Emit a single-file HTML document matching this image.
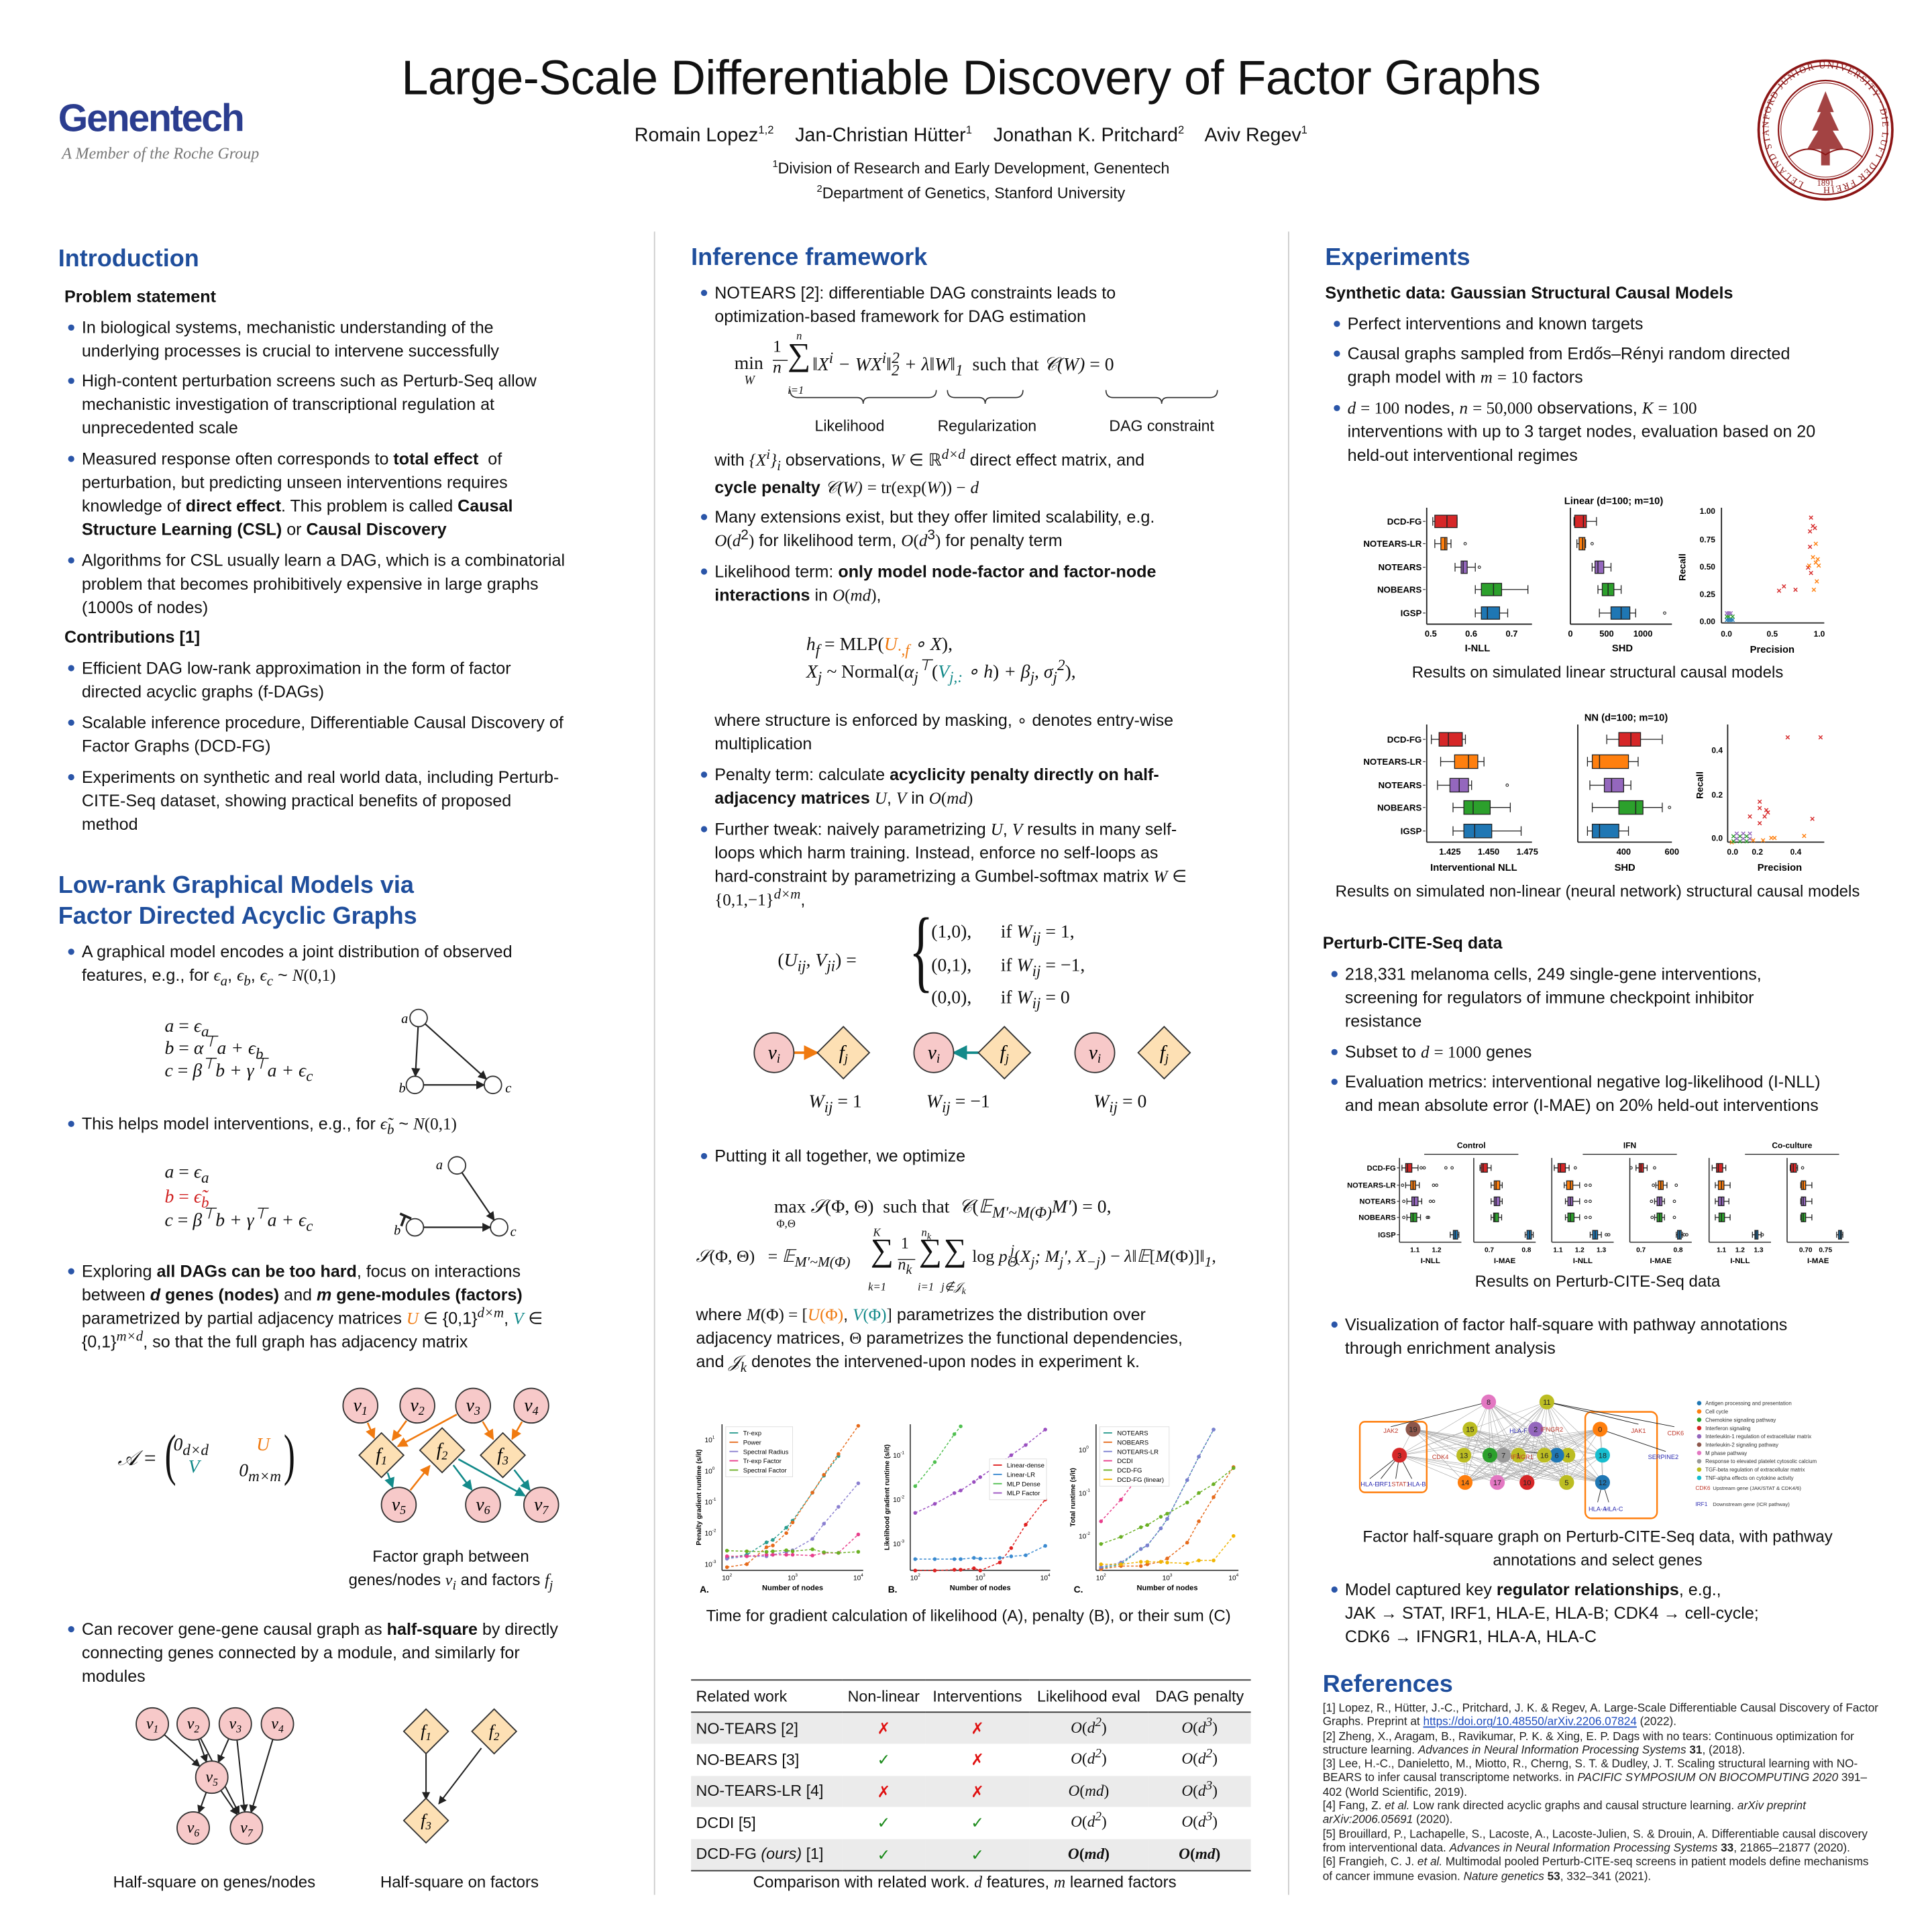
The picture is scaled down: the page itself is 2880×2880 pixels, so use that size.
<!DOCTYPE html>
<html><head><meta charset="utf-8">
<style>
html,body{margin:0;padding:0;background:#fff}
body{width:2880px;height:2880px;overflow:hidden;position:relative}
#c{position:absolute;left:0;top:0;width:1560px;height:1560px;transform:scale(1.846154);transform-origin:0 0;font-family:"Liberation Sans",sans-serif;color:#111}
.a{position:absolute;white-space:nowrap}
sub,sup{line-height:0}
.t{font-size:13.6px;line-height:19px}
.li::before{content:"";position:absolute;left:-11px;top:7px;width:5px;height:5px;border-radius:50%;background:#2a55a8}
.h{color:#1f4e9c;font-size:19.5px;font-weight:bold}
.bd{font-weight:bold}
.m{font-family:"Liberation Serif",serif;font-style:italic}
.r{font-family:"Liberation Serif",serif}
.cap{font-size:13px;text-align:center}
svg{position:absolute;left:0;top:0;overflow:visible}
.ref{font-size:9.3px;line-height:11.3px;color:#222}
td,th{font-weight:normal}
</style></head><body><div id="c">

<div class="a" style="left:47px;top:78px;font-size:31px;font-weight:bold;color:#2b3d8f;letter-spacing:-1.2px">Genentech</div>
<div class="a r" style="left:50px;top:116px;font-size:13px;font-style:italic;color:#777">A Member of the Roche Group</div>
<div class="a" style="left:0;width:1568px;top:42px;text-align:center;font-size:39px;letter-spacing:-0.3px">Large-Scale Differentiable Discovery of Factor Graphs</div>
<div class="a" style="left:0;width:1568px;top:101px;text-align:center;font-size:15.5px">Romain Lopez<sup style="font-size:9px">1,2</sup>&nbsp;&nbsp;&nbsp; Jan-Christian Hütter<sup style="font-size:9px">1</sup>&nbsp;&nbsp;&nbsp; Jonathan K. Pritchard<sup style="font-size:9px">2</sup>&nbsp;&nbsp;&nbsp; Aviv Regev<sup style="font-size:9px">1</sup></div>
<div class="a" style="left:0;width:1568px;top:129px;text-align:center;font-size:12.5px"><sup style="font-size:8px">1</sup>Division of Research and Early Development, Genentech</div>
<div class="a" style="left:0;width:1568px;top:149px;text-align:center;font-size:12.5px"><sup style="font-size:8px">2</sup>Department of Genetics, Stanford University</div>

<svg width="1560" height="1560">
 <g transform="translate(1474,105)" fill="none" stroke="#8c1515">
  <ellipse rx="54" ry="56" stroke-width="2"/><ellipse rx="50" ry="52" stroke-width="1"/>
  <ellipse rx="38" ry="40" stroke-width="1.2"/><ellipse rx="36" ry="38" stroke-width="0.6"/>
  <path d="M0,-30 L-6,-15 L-3,-15 L-10,0 L-5,0 L-14,15 L-3,15 L-3,28 L3,28 L3,15 L14,15 L5,0 L10,0 L3,-15 L6,-15 Z" fill="#8c1515" opacity="0.8"/>
  <path d="M-30,22 Q-15,10 0,20 Q15,10 30,22" stroke-width="1"/>
 </g>
 <defs><path id="sp" d="M1474,151 a46,48 0 1,1 0.1,0"/></defs>
 <text font-family="Liberation Serif" font-size="7.5" fill="#8c1515" letter-spacing="1"><textPath href="#sp" startOffset="6%">LELAND STANFORD JUNIOR UNIVERSITY · DIE LUFT DER FREIHEIT WEHT ·</textPath></text>
 <text x="1474" y="150" font-family="Liberation Serif" font-size="7" fill="#8c1515" text-anchor="middle">1891</text>
 <line x1="528.5" y1="187" x2="528.5" y2="1530" stroke="#ccc" stroke-width="1"/>
 <line x1="1040.5" y1="187" x2="1040.5" y2="1530" stroke="#ccc" stroke-width="1"/>
</svg>

<!-- ============ COLUMN 1 ============ -->
<div class="a h" style="left:47px;top:198px">Introduction</div>
<div class="a t bd" style="left:52px;top:230px">Problem statement</div>
<div class="a t li" style="left:66px;top:255px">In biological systems, mechanistic understanding of the<br>underlying processes is crucial to intervene successfully</div>
<div class="a t li" style="left:66px;top:298px">High-content perturbation screens such as Perturb-Seq allow<br>mechanistic investigation of transcriptional regulation at<br>unprecedented scale</div>
<div class="a t li" style="left:66px;top:361px">Measured response often corresponds to <b>total effect</b>&nbsp; of<br>perturbation, but predicting unseen interventions requires<br>knowledge of <b>direct effect</b>. This problem is called <b>Causal</b><br><b>Structure Learning (CSL)</b> or <b>Causal Discovery</b></div>
<div class="a t li" style="left:66px;top:443px">Algorithms for CSL usually learn a DAG, which is a combinatorial<br>problem that becomes prohibitively expensive in large graphs<br>(1000s of nodes)</div>
<div class="a t bd" style="left:52px;top:505px">Contributions [1]</div>
<div class="a t li" style="left:66px;top:530px">Efficient DAG low-rank approximation in the form of factor<br>directed acyclic graphs (f-DAGs)</div>
<div class="a t li" style="left:66px;top:574px">Scalable inference procedure, Differentiable Causal Discovery of<br>Factor Graphs (DCD-FG)</div>
<div class="a t li" style="left:66px;top:618px">Experiments on synthetic and real world data, including Perturb-<br>CITE-Seq dataset, showing practical benefits of proposed<br>method</div>

<div class="a h" style="left:47px;top:703px;line-height:25px">Low-rank Graphical Models via<br>Factor Directed Acyclic Graphs</div>
<div class="a t li" style="left:66px;top:759px">A graphical model encodes a joint distribution of observed<br>features, e.g., for <span class="m">ϵ<sub>a</sub></span>, <span class="m">ϵ<sub>b</sub></span>, <span class="m">ϵ<sub>c</sub></span> ~ <span class="m">N</span><span class="r">(0,1)</span></div>
<div class="a m" style="left:133px;top:820px;font-size:15px;line-height:18px">a <span style="font-style:normal">=</span> ϵ<sub>a</sub><br>b <span style="font-style:normal">=</span> α<sup>⊤</sup>a + ϵ<sub>b</sub><br>c <span style="font-style:normal">=</span> β<sup>⊤</sup>b + γ<sup>⊤</sup>a + ϵ<sub>c</sub></div>
<div class="a t li" style="left:66px;top:898px">This helps model interventions, e.g., for <span class="m">ϵ̃<sub>b</sub></span> ~ <span class="m">N</span><span class="r">(0,1)</span></div>
<div class="a m" style="left:133px;top:938px;font-size:15px;line-height:19.5px">a <span style="font-style:normal">=</span> ϵ<sub>a</sub><br><span style="color:#d02020">b <span style="font-style:normal">=</span> ϵ̃<sub>b</sub></span><br>c <span style="font-style:normal">=</span> β<sup>⊤</sup>b + γ<sup>⊤</sup>a + ϵ<sub>c</sub></div>
<div class="a t li" style="left:66px;top:1017px">Exploring <b>all DAGs can be too hard</b>, focus on interactions<br>between <b><i>d</i> genes (nodes)</b> and <b><i>m</i> gene-modules (factors)</b><br>parametrized by partial adjacency matrices <span class="m" style="color:#f07a10">U</span> ∈ {0,1}<sup class="m">d×m</sup>, <span class="m" style="color:#138a8a">V</span> ∈<br>{0,1}<sup class="m">m×d</sup>, so that the full graph has adjacency matrix</div>
<div class="a m" style="left:95px;top:1168px;font-size:17px">𝒜 =</div>
<div class="a r" style="left:130px;top:1148px;font-size:46px;transform:scaleX(0.6)">(</div>
<div class="a r" style="left:226px;top:1148px;font-size:46px;transform:scaleX(0.6)">)</div>
<div class="a m" style="left:140px;top:1159px;font-size:15px">0<sub>d×d</sub></div>
<div class="a m" style="left:207px;top:1159px;font-size:15px;color:#f07a10">U</div>
<div class="a m" style="left:152px;top:1177px;font-size:15px;color:#138a8a">V</div>
<div class="a m" style="left:193px;top:1180px;font-size:15px">0<sub>m×m</sub></div>
<div class="a cap" style="left:264px;width:200px;top:1247px;line-height:19px">Factor graph between<br>genes/nodes <span class="m">v<sub>i</sub></span> and factors <span class="m">f<sub>j</sub></span></div>
<div class="a t li" style="left:66px;top:1306px">Can recover gene-gene causal graph as <b>half-square</b> by directly<br>connecting genes connected by a module, and similarly for<br>modules</div>
<div class="a cap" style="left:73px;width:200px;top:1512px">Half-square on genes/nodes</div>
<div class="a cap" style="left:271px;width:200px;top:1512px">Half-square on factors</div>

<!-- ============ COLUMN 2 ============ -->
<div class="a h" style="left:558px;top:197px">Inference framework</div>
<div class="a t li" style="left:577px;top:227px">NOTEARS [2]: differentiable DAG constraints leads to<br>optimization-based framework for DAG estimation</div>
<div class="a m" style="left:593px;top:286px;font-size:15px"><span style="font-style:normal">min</span></div>
<div class="a m" style="left:601px;top:302px;font-size:10px">W</div>
<div class="a m" style="left:624px;top:272px;font-size:14px;line-height:17px;text-align:center"><span style="font-style:normal">1</span><br>n</div>
<div class="a r" style="left:636px;top:272px;font-size:26px">∑</div>
<div class="a m" style="left:643px;top:266px;font-size:9px">n</div>
<div class="a m" style="left:636px;top:310px;font-size:9px">i=1</div>
<div class="a m" style="left:656px;top:286px;font-size:15px">‖X<sup>i</sup> − WX<sup>i</sup>‖<sub>2</sub><sup style="margin-left:-6px">2</sup> + λ‖W‖<sub>1</sub> <span style="font-style:normal">&nbsp;such that</span> 𝒞(W) <span style="font-style:normal">= 0</span></div>
<div class="a" style="left:640px;width:92px;top:337px;font-size:12.5px;text-align:center">Likelihood</div>
<div class="a" style="left:755px;width:84px;top:337px;font-size:12.5px;text-align:center">Regularization</div>
<div class="a" style="left:890px;width:96px;top:337px;font-size:12.5px;text-align:center">DAG constraint</div>
<div class="a t" style="left:577px;top:361px;line-height:22px">with <span class="m">{X<sup>i</sup>}<sub>i</sub></span> observations, <span class="m">W</span> ∈ ℝ<sup class="m">d×d</sup> direct effect matrix, and<br><b>cycle penalty</b> <span class="m">𝒞(W)</span> <span class="r">= tr(exp(</span><span class="m">W</span><span class="r">)) −</span> <span class="m">d</span></div>
<div class="a t li" style="left:577px;top:408px">Many extensions exist, but they offer limited scalability, e.g.<br><span class="m">O</span><span class="r">(</span><span class="m">d</span><sup>2</sup><span class="r">)</span> for likelihood term, <span class="m">O</span><span class="r">(</span><span class="m">d</span><sup>3</sup><span class="r">)</span> for penalty term</div>
<div class="a t li" style="left:577px;top:452px">Likelihood term: <b>only model node-factor and factor-node</b><br><b>interactions</b> in <span class="m">O</span><span class="r">(</span><span class="m">md</span><span class="r">)</span>,</div>
<div class="a m" style="left:651px;top:510px;font-size:15px;line-height:22px">h<sub>f</sub> <span style="font-style:normal">= MLP(</span><span style="color:#f07a10">U<sub>·,f</sub></span> ∘ X<span style="font-style:normal">),</span><br>X<sub>j</sub> ~ <span style="font-style:normal">Normal(</span>α<sub>j</sub><sup>⊤</sup><span style="font-style:normal">(</span><span style="color:#138a8a">V<sub>j,:</sub></span> ∘ h<span style="font-style:normal">)</span> + β<sub>j</sub>, σ<sub>j</sub><sup>2</sup><span style="font-style:normal">),</span></div>
<div class="a t" style="left:577px;top:572px">where structure is enforced by masking, ∘ denotes entry-wise<br>multiplication</div>
<div class="a t li" style="left:577px;top:616px">Penalty term: calculate <b>acyclicity penalty directly on half-</b><br><b>adjacency matrices</b> <span class="m">U</span>, <span class="m">V</span> in <span class="m">O</span><span class="r">(</span><span class="m">md</span><span class="r">)</span></div>
<div class="a t li" style="left:577px;top:660px">Further tweak: naively parametrizing <span class="m">U</span>, <span class="m">V</span> results in many self-<br>loops which harm training. Instead, enforce no self-loops as<br>hard-constraint by parametrizing a Gumbel-softmax matrix <span class="m">W</span> ∈<br><span class="r">{0,1,−1}</span><sup class="m">d×m</sup>,</div>
<div class="a m" style="left:628px;top:768px;font-size:15px"><span style="font-style:normal">(</span>U<sub>ij</sub>, V<sub>ji</sub><span style="font-style:normal">) =</span></div>
<div class="a r" style="left:734px;top:728px;font-size:74px;transform:scaleX(0.55);transform-origin:0 0;line-height:80px">{</div>
<div class="a m" style="left:752px;top:740px;font-size:15px;line-height:26.5px"><span style="font-style:normal">(1,0),<br>(0,1),<br>(0,0),</span></div>
<div class="a m" style="left:808px;top:740px;font-size:15px;line-height:26.5px"><span style="font-style:normal">if </span>W<sub>ij</sub> <span style="font-style:normal">= 1,</span><br><span style="font-style:normal">if </span>W<sub>ij</sub> <span style="font-style:normal">= −1,</span><br><span style="font-style:normal">if </span>W<sub>ij</sub> <span style="font-style:normal">= 0</span></div>
<div class="a m" style="left:653px;top:882px;font-size:15px">W<sub>ij</sub> <span style="font-style:normal">= 1</span></div>
<div class="a m" style="left:748px;top:882px;font-size:15px">W<sub>ij</sub> <span style="font-style:normal">= −1</span></div>
<div class="a m" style="left:883px;top:882px;font-size:15px">W<sub>ij</sub> <span style="font-style:normal">= 0</span></div>
<div class="a t li" style="left:577px;top:924px">Putting it all together, we optimize</div>
<div class="a m" style="left:625px;top:965px;font-size:15px"><span style="font-style:normal">max</span>&nbsp;𝒮<span style="font-style:normal">(Φ, Θ) &nbsp;such that&nbsp; </span>𝒞<span style="font-style:normal">(</span>𝔼<sub>M′~M(Φ)</sub>M′<span style="font-style:normal">) = 0,</span></div>
<div class="a m" style="left:627px;top:983px;font-size:9px"><span style="font-style:normal">Φ,Θ</span></div>
<div class="a m" style="left:562px;top:1007px;font-size:14px">𝒮<span style="font-style:normal">(Φ, Θ) &nbsp; =</span> 𝔼<sub>M′~M(Φ)</sub></div>
<div class="a r" style="left:703px;top:995px;font-size:26px">∑</div>
<div class="a m" style="left:705px;top:990px;font-size:9px">K</div>
<div class="a m" style="left:701px;top:1034px;font-size:9px">k=1</div>
<div class="a m" style="left:725px;top:995px;font-size:13px;line-height:17px;text-align:center"><span style="font-style:normal">1</span><br>n<sub>k</sub></div>
<div class="a r" style="left:742px;top:995px;font-size:26px">∑</div>
<div class="a m" style="left:744px;top:990px;font-size:9px">n<sub>k</sub></div>
<div class="a m" style="left:741px;top:1034px;font-size:9px">i=1</div>
<div class="a r" style="left:762px;top:995px;font-size:26px">∑</div>
<div class="a m" style="left:760px;top:1034px;font-size:9px">j∉𝒥<sub>k</sub></div>
<div class="a m" style="left:785px;top:1007px;font-size:14px"><span style="font-style:normal">log</span> p<sub>Θ</sub><sup style="margin-left:-6px">j</sup><span style="font-style:normal">(</span>X<sub>j</sub>; M<sub>j</sub>′, X<sub>−j</sub><span style="font-style:normal">) −</span> λ‖𝔼<span style="font-style:normal">[</span>M<span style="font-style:normal">(Φ)]</span>‖<sub>1</sub><span style="font-style:normal">,</span></div>
<div class="a t" style="left:562px;top:1052px">where <span class="m">M</span><span class="r">(Φ) = [</span><span class="m" style="color:#f07a10">U</span><span class="r" style="color:#f07a10">(Φ)</span>, <span class="m" style="color:#138a8a">V</span><span class="r" style="color:#138a8a">(Φ)</span><span class="r">]</span> parametrizes the distribution over<br>adjacency matrices, <span class="r">Θ</span> parametrizes the functional dependencies,<br>and <span class="m">𝒥<sub>k</sub></span> denotes the intervened-upon nodes in experiment k.</div>

<div class="a cap" style="left:532px;width:500px;top:1297px">Time for gradient calculation of likelihood (A), penalty (B), or their sum (C)</div>

<div class="a" style="left:558px;top:1356px;width:452px">
<table style="border-collapse:collapse;width:452px;font-size:12.6px;border-top:1.5px solid #333;border-bottom:1.5px solid #333">
<tr style="height:26px;border-bottom:1.2px solid #333"><td style="padding-left:4px">Related work</td><td style="text-align:center">Non-linear</td><td style="text-align:center">Interventions</td><td style="text-align:center">Likelihood eval</td><td style="text-align:center">DAG penalty</td></tr>
<tr style="height:25.5px;background:#ebebeb"><td style="padding-left:4px">NO-TEARS [2]</td><td style="text-align:center;color:#e01010">✗</td><td style="text-align:center;color:#e01010">✗</td><td class="m" style="text-align:center">O<span style="font-style:normal">(</span>d<sup>2</sup><span style="font-style:normal">)</span></td><td class="m" style="text-align:center">O<span style="font-style:normal">(</span>d<sup>3</sup><span style="font-style:normal">)</span></td></tr>
<tr style="height:25.5px"><td style="padding-left:4px">NO-BEARS [3]</td><td style="text-align:center;color:#1a8a1a">✓</td><td style="text-align:center;color:#e01010">✗</td><td class="m" style="text-align:center">O<span style="font-style:normal">(</span>d<sup>2</sup><span style="font-style:normal">)</span></td><td class="m" style="text-align:center">O<span style="font-style:normal">(</span>d<sup>2</sup><span style="font-style:normal">)</span></td></tr>
<tr style="height:25.5px;background:#ebebeb"><td style="padding-left:4px">NO-TEARS-LR [4]</td><td style="text-align:center;color:#e01010">✗</td><td style="text-align:center;color:#e01010">✗</td><td class="m" style="text-align:center">O<span style="font-style:normal">(</span>md<span style="font-style:normal">)</span></td><td class="m" style="text-align:center">O<span style="font-style:normal">(</span>d<sup>3</sup><span style="font-style:normal">)</span></td></tr>
<tr style="height:25.5px"><td style="padding-left:4px">DCDI [5]</td><td style="text-align:center;color:#1a8a1a">✓</td><td style="text-align:center;color:#1a8a1a">✓</td><td class="m" style="text-align:center">O<span style="font-style:normal">(</span>d<sup>2</sup><span style="font-style:normal">)</span></td><td class="m" style="text-align:center">O<span style="font-style:normal">(</span>d<sup>3</sup><span style="font-style:normal">)</span></td></tr>
<tr style="height:25.5px;background:#ebebeb"><td style="padding-left:4px">DCD-FG <i>(ours)</i> [1]</td><td style="text-align:center;color:#1a8a1a">✓</td><td style="text-align:center;color:#1a8a1a">✓</td><td class="m" style="text-align:center;font-weight:bold">O<span style="font-style:normal">(</span>md<span style="font-style:normal">)</span></td><td class="m" style="text-align:center;font-weight:bold">O<span style="font-style:normal">(</span>md<span style="font-style:normal">)</span></td></tr>
</table></div>
<div class="a cap" style="left:534px;width:490px;top:1512px">Comparison with related work. <span class="m">d</span> features, <span class="m">m</span> learned factors</div>

<!-- ============ COLUMN 3 ============ -->
<div class="a h" style="left:1070px;top:197px">Experiments</div>
<div class="a t bd" style="left:1070px;top:227px">Synthetic data: Gaussian Structural Causal Models</div>
<div class="a t li" style="left:1088px;top:252px">Perfect interventions and known targets</div>
<div class="a t li" style="left:1088px;top:276px">Causal graphs sampled from Erdős–Rényi random directed<br>graph model with <span class="m">m</span> <span class="r">= 10</span> factors</div>
<div class="a t li" style="left:1088px;top:320px"><span class="m">d</span> <span class="r">= 100</span> nodes, <span class="m">n</span> <span class="r">= 50,000</span> observations, <span class="m">K</span> <span class="r">= 100</span><br>interventions with up to 3 target nodes, evaluation based on 20<br>held-out interventional regimes</div>
<div class="a cap" style="left:1040px;width:500px;top:535px">Results on simulated linear structural causal models</div>
<div class="a cap" style="left:1040px;width:500px;top:712px">Results on simulated non-linear (neural network) structural causal models</div>
<div class="a t bd" style="left:1068px;top:752px">Perturb-CITE-Seq data</div>
<div class="a t li" style="left:1086px;top:777px">218,331 melanoma cells, 249 single-gene interventions,<br>screening for regulators of immune checkpoint inhibitor<br>resistance</div>
<div class="a t li" style="left:1086px;top:840px">Subset to <span class="m">d</span> <span class="r">= 1000</span> genes</div>
<div class="a t li" style="left:1086px;top:864px">Evaluation metrics: interventional negative log-likelihood (I-NLL)<br>and mean absolute error (I-MAE) on 20% held-out interventions</div>
<div class="a cap" style="left:1040px;width:500px;top:1027px">Results on Perturb-CITE-Seq data</div>
<div class="a t li" style="left:1086px;top:1060px">Visualization of factor half-square with pathway annotations<br>through enrichment analysis</div>
<div class="a cap" style="left:1040px;width:500px;top:1231px;line-height:19px">Factor half-square graph on Perturb-CITE-Seq data, with pathway<br>annotations and select genes</div>
<div class="a t li" style="left:1086px;top:1274px">Model captured key <b>regulator relationships</b>, e.g.,<br>JAK → STAT, IRF1, HLA-E, HLA-B; CDK4 → cell-cycle;<br>CDK6 → IFNGR1, HLA-A, HLA-C</div>
<div class="a h" style="left:1068px;top:1349px">References</div>
<div class="a ref" style="left:1068px;top:1374px">[1] Lopez, R., Hütter, J.-C., Pritchard, J. K. &amp; Regev, A. Large-Scale Differentiable Causal Discovery of Factor<br>Graphs. Preprint at <span style="color:#1f4ec0;text-decoration:underline">https://doi.org/10.48550/arXiv.2206.07824</span> (2022).<br>[2] Zheng, X., Aragam, B., Ravikumar, P. K. &amp; Xing, E. P. Dags with no tears: Continuous optimization for<br>structure learning. <i>Advances in Neural Information Processing Systems</i> <b>31</b>, (2018).<br>[3] Lee, H.-C., Danieletto, M., Miotto, R., Cherng, S. T. &amp; Dudley, J. T. Scaling structural learning with NO-<br>BEARS to infer causal transcriptome networks. in <i>PACIFIC SYMPOSIUM ON BIOCOMPUTING 2020</i> 391–<br>402 (World Scientific, 2019).<br>[4] Fang, Z. <i>et al.</i> Low rank directed acyclic graphs and causal structure learning. <i>arXiv preprint<br>arXiv:2006.05691</i> (2020).<br>[5] Brouillard, P., Lachapelle, S., Lacoste, A., Lacoste-Julien, S. &amp; Drouin, A. Differentiable causal discovery<br>from interventional data. <i>Advances in Neural Information Processing Systems</i> <b>33</b>, 21865–21877 (2020).<br>[6] Frangieh, C. J. <i>et al.</i> Multimodal pooled Perturb-CITE-seq screens in patient models define mechanisms<br>of cancer immune evasion. <i>Nature genetics</i> <b>53</b>, 332–341 (2021).</div>

<svg id="g" width="1560" height="1560" font-family="Liberation Sans"></svg>
</div>
<script>
(function(){
var S='';
function A(s){S+=s;}
function mk(id,c){A('<marker id="'+id+'" viewBox="0 0 10 10" refX="9" refY="5" markerWidth="6" markerHeight="6" orient="auto-start-reverse"><path d="M0,0L10,5L0,10z" fill="'+c+'"/></marker>');}
A('<defs>');mk('ak','#222');mk('ao','#f07a10');mk('at','#138a8a');mk('ag','#999');A('</defs>');
function ln(x1,y1,x2,y2,c,w,m,d){A('<line x1="'+x1+'" y1="'+y1+'" x2="'+x2+'" y2="'+y2+'" stroke="'+c+'" stroke-width="'+(w||1)+'"'+(m?' marker-end="url(#'+m+')"':'')+(d?' stroke-dasharray="'+d+'"':'')+'/>');}
function tx(x,y,s,sz,o){A('<text x="'+x+'" y="'+y+'" font-size="'+sz+'" '+(o||'')+'>'+s+'</text>');}
function arr(p,q,r1,r2,c,m,w){var dx=q[0]-p[0],dy=q[1]-p[1],L=Math.hypot(dx,dy);ln(p[0]+dx/L*r1,p[1]+dy/L*r1,q[0]-dx/L*r2,q[1]-dy/L*r2,c,w||1.2,m);}
function circ(x,y,r,lab,sub,fs){A('<circle cx="'+x+'" cy="'+y+'" r="'+r+'" fill="#f7c9c9" stroke="#333" stroke-width="1"/>');A('<text x="'+x+'" y="'+(y+fs*0.3)+'" font-size="'+fs+'" font-family="Liberation Serif" font-style="italic" text-anchor="middle">'+lab+'<tspan font-size="'+(fs*0.65)+'" dy="3">'+sub+'</tspan></text>');}
function dia(x,y,r,lab,sub,fs){A('<path d="M'+x+','+(y-r)+'L'+(x+r)+','+y+'L'+x+','+(y+r)+'L'+(x-r)+','+y+'Z" fill="#fde0b4" stroke="#333" stroke-width="1"/>');A('<text x="'+x+'" y="'+(y+fs*0.3)+'" font-size="'+fs+'" font-family="Liberation Serif" font-style="italic" text-anchor="middle">'+lab+'<tspan font-size="'+(fs*0.65)+'" dy="3">'+sub+'</tspan></text>');}
var a1=[338,822],b1=[335,876],c1=[398,876];
A('<circle cx="338" cy="822" r="7" fill="#fff" stroke="#333"/><circle cx="335" cy="876" r="7" fill="#fff" stroke="#333"/><circle cx="398" cy="876" r="7" fill="#fff" stroke="#333"/>');
tx(324,826,'a',11,'font-family="Liberation Serif" font-style="italic"');tx(322,882,'b',11,'font-family="Liberation Serif" font-style="italic"');tx(408,882,'c',11,'font-family="Liberation Serif" font-style="italic"');
arr(a1,b1,7,7,'#222','ak');arr(a1,c1,7,7,'#222','ak');arr(b1,c1,7,7,'#222','ak');
var a2=[369,941],b2=[335,991],c2=[403,991];
A('<circle cx="369" cy="941" r="7" fill="#fff" stroke="#333"/><circle cx="335" cy="991" r="7" fill="#fff" stroke="#333"/><circle cx="403" cy="991" r="7" fill="#fff" stroke="#333"/>');
tx(352,944,'a',11,'font-family="Liberation Serif" font-style="italic"');tx(318,997,'b',11,'font-family="Liberation Serif" font-style="italic"');tx(412,998,'c',11,'font-family="Liberation Serif" font-style="italic"');
arr(a2,c2,7,7,'#222','ak');arr(b2,c2,7,7,'#222','ak');
ln(323,980,332,984,'#222',2);ln(327,982,324,990,'#222',2);
var V={1:[291,1135],2:[337,1135],3:[382,1135],4:[429,1135],5:[322,1215],6:[390,1215],7:[437,1215]},F={1:[308,1175],2:[357,1171],3:[406,1175]};
[[1,1],[2,1],[3,1],[3,3],[4,3]].forEach(function(e){arr(V[e[0]],F[e[1]],15,15,'#f07a10','ao',1.4);});
arr(V[5],F[2],15,16,'#f07a10','ao',1.4);
[[1,5],[2,6],[2,7],[3,7]].forEach(function(e){arr(F[e[0]],V[e[1]],15,15,'#138a8a','at',1.4);});
var k;
for(k in V)circ(V[k][0],V[k][1],14,'v',k,15);for(k in F)dia(F[k][0],F[k][1],18,'f',k,15);
var H={1:[123,1392],2:[156,1392],3:[190,1392],4:[224,1392],5:[171,1435],6:[156,1476],7:[199,1476]};
[[1,5],[2,5],[3,5],[3,7],[4,7],[5,6],[5,7],[2,7]].forEach(function(e){arr(H[e[0]],H[e[1]],13,13,'#222','ak',1.1);});
for(k in H)circ(H[k][0],H[k][1],13,'v',k,13);
var G={1:[344,1398],2:[399,1398],3:[344,1470]};
arr(G[1],G[3],17,17,'#222','ak',1.1);arr(G[2],G[3],17,17,'#222','ak',1.1);
for(k in G)dia(G[k][0],G[k][1],18,'f',k,14);
function brace(x1,x2,y){var m=(x1+x2)/2;A('<path d="M'+x1+','+y+' q0,6 6,6 L'+(m-5)+','+(y+6)+' q5,0 5,5 q0,-5 5,-5 L'+(x2-6)+','+(y+6)+' q6,0 6,-6" fill="none" stroke="#333" stroke-width="0.9"/>');}
brace(638,756,315);brace(765,826,315);brace(893,983,315);
ln(624,291,636,291,'#222',0.8);ln(725,1017,739,1017,'#222',0.8);
function vi(x,y){A('<circle cx="'+x+'" cy="'+y+'" r="16" fill="#f7c9c9" stroke="#333"/>');A('<text x="'+x+'" y="'+(y+5)+'" font-size="16" font-family="Liberation Serif" font-style="italic" text-anchor="middle">v<tspan font-size="10" dy="3">i</tspan></text>');}
function fj(x,y){A('<path d="M'+x+','+(y-21)+'L'+(x+21)+','+y+'L'+x+','+(y+21)+'L'+(x-21)+','+y+'Z" fill="#fde0b4" stroke="#333"/>');A('<text x="'+x+'" y="'+(y+5)+'" font-size="16" font-family="Liberation Serif" font-style="italic" text-anchor="middle">f<tspan font-size="10" dy="3">j</tspan></text>');}
arr([625,850],[681,850],16,21,'#f07a10','ao',2);arr([811,850],[754,850],21,16,'#138a8a','at',2);
vi(625,850);fj(681,850);vi(754,850);fj(811,850);vi(884,850);fj(940,850);
var N=[100,200,400,500,800,1000,2000,3000,5000,10000];
function panel(x0,x1,y0,y1,lo,hi,series,ylab,letter,leg,lx,ly){
 ln(x0,y0,x0,y1,'#222',0.8);ln(x0,y1,x1,y1,'#222',0.8);
 var X=function(n){return x0+4+(Math.log10(n)-2)/2*(x1-x0-8);},Y=function(v){return y1-(Math.log10(v)-lo)/(hi-lo)*(y1-y0);};
 [2,3,4].forEach(function(e){tx(X(Math.pow(10,e))-4,y1+8,'10<tspan font-size="3.5" dy="-3">'+e+'</tspan>',5.5);});
 for(var e=Math.ceil(lo);e<=hi;e++){tx(x0-14,Y(Math.pow(10,e))+2,'10<tspan font-size="3.5" dy="-3">'+e+'</tspan>',5.5);}
 tx((x0+x1)/2,y1+16,'Number of nodes',6,'text-anchor="middle" font-weight="bold"');
 tx(x0-18,y1+18,letter,7.5,'font-weight="bold"');
 A('<text transform="translate('+(x0-17)+','+((y0+y1)/2)+') rotate(-90)" font-size="5.5" font-weight="bold" text-anchor="middle">'+ylab+'</text>');
 series.forEach(function(s){var p=[];s.d.forEach(function(v,i){if(v)p.push(X(N[i]).toFixed(1)+','+Y(v).toFixed(1));});
  A('<polyline points="'+p.join(' ')+'" fill="none" stroke="'+s.c+'" stroke-width="0.8" stroke-dasharray="2,1.5"/>');
  p.forEach(function(q){var a=q.split(',');A('<circle cx="'+a[0]+'" cy="'+a[1]+'" r="1.5" fill="'+s.c+'"/>');});});
 A('<rect x="'+lx+'" y="'+ly+'" width="'+leg+'" height="'+(series.length*7.5+3)+'" fill="#fff" stroke="#ddd" stroke-width="0.5"/>');
 series.forEach(function(s,i){ln(lx+3,ly+5+i*7.5,lx+10,ly+5+i*7.5,s.c,1);tx(lx+14,ly+7+i*7.5,s.n,5.2);});
}
panel(583,697,1150,1268,-3.2,1.5,[
 {n:'Tr-exp',c:'#2a9d8f',d:[1.6e-3,2e-3,5e-3,6e-3,1.5e-2,2.5e-2,0.2,0.7,3,0]},
 {n:'Power',c:'#e66a1a',d:[8e-4,1e-3,3.5e-3,4e-3,1e-2,2.2e-2,0.2,0.75,3.5,28]},
 {n:'Spectral Radius',c:'#8a7fd0',d:[1.5e-3,1.8e-3,1.8e-3,2e-3,2.5e-3,2.8e-3,6.5e-3,2e-2,7e-2,0.4]},
 {n:'Tr-exp Factor',c:'#e83e8c',d:[1.8e-3,1.8e-3,2e-3,2e-3,2e-3,2e-3,1.9e-3,2.3e-3,2.3e-3,9e-3]},
 {n:'Spectral Factor',c:'#6ab023',d:[2.7e-3,2.6e-3,2.5e-3,2.6e-3,2.8e-3,2.6e-3,3e-3,2.4e-3,2.3e-3,2.5e-3]}],
 'Penalty gradient runtime (s/it)','A.',54,586,1152);
panel(735,848,1150,1268,-3.6,-0.3,[
 {n:'Linear-dense',c:'#e02020',d:[2.5e-4,2.5e-4,2.6e-4,2.6e-4,2.8e-4,2.5e-4,3.8e-4,8e-4,2.7e-3,1e-2]},
 {n:'Linear-LR',c:'#3a8ad0',d:[4.5e-4,4.5e-4,4.5e-4,4.5e-4,4.8e-4,4.6e-4,4.8e-4,5.2e-4,5.5e-4,9e-4]},
 {n:'MLP Dense',c:'#50c050',d:[0.02,0.07,0.3,0.45,0,0,0,0,0,0]},
 {n:'MLP Factor',c:'#9a4fc0',d:[5e-3,8e-3,1.4e-2,1.6e-2,2.5e-2,3.2e-2,6.5e-2,1e-1,0.17,0.38]}],
 'Likelihood gradient runtime (s/it)','B.',46,799,1178);
panel(885,1000,1150,1268,-2.8,0.6,[
 {n:'NOTEARS',c:'#2a9d8f',d:[1.8e-3,2.2e-3,5e-3,6e-3,1.5e-2,2.5e-2,0.2,0.7,3,0]},
 {n:'NOBEARS',c:'#e66a1a',d:[1.7e-3,2e-3,2e-3,2.2e-3,2.5e-3,3e-3,7e-3,2.2e-2,8e-2,0.4]},
 {n:'NOTEARS-LR',c:'#7a7fd0',d:[1.9e-3,2.4e-3,5e-3,6e-3,1.5e-2,2.5e-2,0.2,0.7,3,0]},
 {n:'DCDI',c:'#e83e8c',d:[0.022,0.07,0,0.45,0,0,0,0,0,0]},
 {n:'DCD-FG',c:'#6ab023',d:[6.5e-3,9.5e-3,1.6e-2,1.8e-2,2.8e-2,3.3e-2,6e-2,0.1,0.16,0.38]},
 {n:'DCD-FG (linear)',c:'#f0b400',d:[2.2e-3,2.2e-3,2.5e-3,2.5e-3,2.5e-3,2.4e-3,2.3e-3,2.7e-3,2.7e-3,1e-2]}],
 'Total runtime (s/it)','C.',56,888,1152);
var COL=['#d62728','#ff7f0e','#9467bd','#2ca02c','#1f77b4'],NM=['DCD-FG','NOTEARS-LR','NOTEARS','NOBEARS','IGSP'];
function bp(x0,x1,lo,hi,rows,ys,h){var X=function(v){return x0+(v-lo)/(hi-lo)*(x1-x0);};
 rows.forEach(function(r,i){var y=ys[i];ln(X(r[0]),y,X(r[4]),y,'#222',0.7);ln(X(r[0]),y-h*0.35,X(r[0]),y+h*0.35,'#222',0.7);ln(X(r[4]),y-h*0.35,X(r[4]),y+h*0.35,'#222',0.7);
  A('<rect x="'+X(r[1])+'" y="'+(y-h/2)+'" width="'+(X(r[3])-X(r[1]))+'" height="'+h+'" fill="'+COL[i]+'" stroke="#222" stroke-width="0.7"/>');ln(X(r[2]),y-h/2,X(r[2]),y+h/2,'#222',0.8);
  (r[5]||[]).forEach(function(o){A('<circle cx="'+X(o)+'" cy="'+y+'" r="1" fill="none" stroke="#222" stroke-width="0.6"/>');});});}
function lab(x,ys,fs){ys.forEach(function(y,i){tx(x,y+fs*0.35,NM[i],fs,'text-anchor="end" font-weight="bold"');ln(x+1,y,x+3,y,'#222',0.6);});}
function axes(x0,x1,y0,y1,w){ln(x0,y0,x0,y1,'#222',w||1);ln(x0,y1,x1,y1,'#222',w||1);}
var ys1=[421,439,458,476,495];
tx(1303,407,'Linear (d=100; m=10)',8,'text-anchor="middle" font-weight="bold"');
lab(1148,ys1,7.2);axes(1152,1237,410,504);
bp(1152,1237,0.49,0.75,[[0.505,0.51,0.54,0.565,0.565],[0.51,0.525,0.535,0.54,0.55,[0.585]],[0.56,0.575,0.58,0.59,0.61,[0.62]],[0.61,0.625,0.655,0.675,0.74],[0.61,0.625,0.64,0.67,0.69]],ys1,10);
[[0.5,'0.5'],[0.6,'0.6'],[0.7,'0.7']].forEach(function(t){tx(1152+(t[0]-0.49)/0.26*85,514,t[1],7,'text-anchor="middle" font-weight="bold"');});
tx(1193,526,'I-NLL',8,'text-anchor="middle" font-weight="bold"');
axes(1268,1350,410,504);
bp(1268,1350,0,1400,[[50,60,180,220,360],[90,120,170,200,210,[300]],[300,340,380,460,560],[380,440,520,600,700],[400,560,700,820,900,[1300]]],ys1,10);
[[0,'0'],[500,'500'],[1000,'1000']].forEach(function(t){tx(1268+t[0]/1400*82,514,t[1],7,'text-anchor="middle" font-weight="bold"');});
tx(1310,526,'SHD',8,'text-anchor="middle" font-weight="bold"');
axes(1390,1473,410,503);
function sc(x0,x1,y0,y1,xr,yr,pts){pts.forEach(function(p){var x=x0+p[0]/xr*(x1-x0),y=y1-p[1]/yr*(y1-y0);A('<text x="'+x+'" y="'+(y+2.5)+'" font-size="7" font-weight="bold" fill="'+p[2]+'" text-anchor="middle">×</text>');});}
[['1.00',413],['0.75',436],['0.50',458],['0.25',480],['0.00',502]].forEach(function(t){tx(1385,t[1]+2,t[0],6.5,'text-anchor="end" font-weight="bold"');});
A('<text transform="translate(1361,458) rotate(-90)" font-size="7.5" font-weight="bold" text-anchor="middle">Recall</text>');
[['0.0',1394],['0.5',1431],['1.0',1469]].forEach(function(t){tx(t[1],514,t[0],6.5,'text-anchor="middle" font-weight="bold"');});
tx(1431,527,'Precision',8,'text-anchor="middle" font-weight="bold"');
var sp=[];[[0.88,0.98],[0.9,0.9],[0.87,0.85],[0.92,0.88],[0.87,0.7],[0.85,0.5],[0.88,0.45],[0.55,0.28],[0.6,0.32],[0.72,0.29]].forEach(function(p){sp.push([p[0]+0.02,p[1]*0.95+0.03,'#d62728']);});
[[0.95,0.73],[0.92,0.6],[0.95,0.55],[0.98,0.52],[0.96,0.37],[0.93,0.29],[0.88,0.52],[0.97,0.58]].forEach(function(p){sp.push([p[0],p[1]*0.95+0.03,'#ff7f0e']);});
for(var i=0;i<10;i++){sp.push([0.03+i%4*0.02,0.03+(i%3)*0.03,['#1f77b4','#2ca02c','#9467bd'][i%3]]);}
sc(1392,1474,410,503,1.05,1.05,sp);
var ys2=[597,615,634,652,671];
tx(1313,582,'NN (d=100; m=10)',8,'text-anchor="middle" font-weight="bold"');
lab(1148,ys2,7.2);axes(1152,1237,585,680);
bp(1152,1237,1.41,1.478,[[1.413,1.418,1.424,1.433,1.435],[1.419,1.428,1.437,1.443,1.447],[1.417,1.425,1.431,1.437,1.439,[1.462]],[1.427,1.434,1.44,1.451,1.464],[1.427,1.434,1.441,1.452,1.471]],ys2,11);
[[1.425,'1.425'],[1.45,'1.450'],[1.475,'1.475']].forEach(function(t){tx(1152+(t[0]-1.41)/0.068*85,690,t[1],7,'text-anchor="middle" font-weight="bold"');});
tx(1190,703,'Interventional NLL',8,'text-anchor="middle" font-weight="bold"');
axes(1274,1350,585,680);
bp(1274,1350,210,600,[[330,380,430,470,560],[250,270,300,420,460],[260,320,350,400,430],[270,380,450,480,560,[590]],[250,270,300,380,420]],ys2,11);
[[400,'400'],[600,'600']].forEach(function(t){tx(1274+(t[0]-210)/390*76,690,t[1],7,'text-anchor="middle" font-weight="bold"');});
tx(1312,703,'SHD',8,'text-anchor="middle" font-weight="bold"');
axes(1395,1473,585,680);
[['0.4',606],['0.2',642],['0.0',677]].forEach(function(t){tx(1391,t[1]+2,t[0],6.5,'text-anchor="end" font-weight="bold"');});
A('<text transform="translate(1375,634) rotate(-90)" font-size="7.5" font-weight="bold" text-anchor="middle">Recall</text>');
[['0.0',1399],['0.2',1419],['0.4',1450]].forEach(function(t){tx(t[1],690,t[0],6.5,'text-anchor="middle" font-weight="bold"');});
tx(1437,703,'Precision',8,'text-anchor="middle" font-weight="bold"');
var s2=[[0.35,0.49,'#d62728'],[0.55,0.49,'#d62728'],[0.18,0.19,'#d62728'],[0.18,0.16,'#d62728'],[0.22,0.15,'#d62728'],[0.21,0.12,'#d62728'],[0.12,0.12,'#d62728'],[0.18,0.09,'#d62728'],[0.5,0.11,'#d62728'],[0.23,0.14,'#d62728'],[0.45,0.03,'#ff7f0e'],[0.27,0.02,'#ff7f0e'],[0.25,0.02,'#ff7f0e'],[0.2,0.01,'#ff7f0e'],[0.14,0.01,'#ff7f0e'],[0.01,0.0,'#ff7f0e']];
for(i=0;i<14;i++)s2.push([0.02+i%6*0.02,0.005+(i%4)*0.012,['#2ca02c','#9467bd'][i%2]]);
sc(1397,1474,585,680,0.58,0.55,s2);
[['Control',1188],['IFN',1316],['Co-culture',1447]].forEach(function(t){tx(t[1],927,t[0],6.5,'text-anchor="middle" font-weight="bold"');ln(t[1]-38,932,t[1]+38,932,'#222',0.7);});
var ys3=[943,957,970,983,997];
lab(1127,ys3,6);
var PX=[[1130,1180],[1190,1240],[1253,1303],[1316,1366],[1380,1430],[1443,1493]];
var PD=[
 [[0.04,0.1,0.13,0.2,0.3,[0.35,0.4,0.75,0.85]],[0.1,0.18,0.22,0.26,0.32,[0.05,0.55,0.6]],[0.12,0.2,0.24,0.3,0.36,[0.07,0.5,0.55]],[0.12,0.18,0.22,0.28,0.34,[0.07,0.45,0.47]],[0.82,0.87,0.9,0.94,0.96]],
 [[0.1,0.12,0.15,0.22,0.28],[0.28,0.33,0.36,0.42,0.46],[0.28,0.33,0.36,0.42,0.46],[0.28,0.32,0.34,0.4,0.45],[0.83,0.86,0.9,0.93,0.96]],
 [[0.04,0.1,0.14,0.22,0.28,[0.38]],[0.2,0.24,0.3,0.34,0.45,[0.55,0.62]],[0.22,0.26,0.3,0.34,0.45,[0.55,0.62]],[0.22,0.26,0.3,0.36,0.45,[0.55,0.62]],[0.62,0.66,0.7,0.74,0.8,[0.88,0.92]]],
 [[0.1,0.15,0.18,0.22,0.28,[0.02,0.4]],[0.42,0.46,0.5,0.54,0.6,[0.38,0.75]],[0.4,0.44,0.48,0.52,0.56,[0.35,0.72]],[0.4,0.44,0.48,0.52,0.56,[0.36,0.72]],[0.75,0.77,0.8,0.83,0.85,[0.88,0.92]]],
 [[0.05,0.12,0.15,0.22,0.27],[0.1,0.15,0.2,0.24,0.34],[0.1,0.15,0.2,0.24,0.32],[0.1,0.16,0.2,0.25,0.34],[0.7,0.74,0.76,0.79,0.84,[0.86]]],
 [[0.05,0.06,0.1,0.15,0.17,[0.25]],[0.22,0.23,0.26,0.3,0.4],[0.22,0.23,0.26,0.3,0.4],[0.22,0.23,0.26,0.3,0.4],[0.8,0.83,0.86,0.88,0.9]]];
PX.forEach(function(p,j){axes(p[0],p[1],935,1003,0.8);bp(p[0],p[1],0,1,PD[j],ys3,7);});
var TK=[[[1.1,0.25],[1.2,0.6]],[[0.7,0.25],[0.8,0.85]],[[1.1,0.1],[1.2,0.45],[1.3,0.8]],[[0.7,0.18],[0.8,0.78]],[[1.1,0.2],[1.2,0.5],[1.3,0.8]],[[0.7,0.3],[0.75,0.62]]];
var TL=['I-NLL','I-MAE','I-NLL','I-MAE','I-NLL','I-MAE'];
PX.forEach(function(p,j){TK[j].forEach(function(t){tx(p[0]+t[1]*(p[1]-p[0]),1011,(j==5?t[0].toFixed(2):t[0].toFixed(1)),5.5,'text-anchor="middle" font-weight="bold"');});tx((p[0]+p[1])/2,1020,TL[j],6.2,'text-anchor="middle" font-weight="bold"');});
var ND={8:[1202,1132,'#e377c2'],11:[1249,1132,'#bcbd22'],19:[1141,1154,'#8c564b'],15:[1187,1154,'#bcbd22'],2:[1240,1154,'#9467bd'],0:[1292,1154,'#ff7f0e'],3:[1130,1175,'#d62728'],13:[1182,1175,'#bcbd22'],9:[1203,1175,'#2ca02c'],7:[1214,1175,'#999'],1:[1226,1175,'#bcbd22'],16:[1247,1175,'#bcbd22'],6:[1257,1175,'#1f77b4'],4:[1266,1175,'#bcbd22'],18:[1294,1175,'#17becf'],14:[1183,1197,'#ff7f0e'],17:[1209,1197,'#e377c2'],10:[1233,1197,'#d62728'],5:[1265,1197,'#bcbd22'],12:[1294,1197,'#1f77b4']};
var topN=[8,11,19,15,2,0],midN=[3,13,9,7,1,16,6,4,18],botN=[14,17,10,5,12];
topN.forEach(function(a){midN.concat(botN).forEach(function(b){ln(ND[a][0],ND[a][1],ND[b][0],ND[b][1],'#aaa',0.35);});});
midN.forEach(function(a){botN.forEach(function(b){ln(ND[a][0],ND[a][1],ND[b][0],ND[b][1],'#aaa',0.35);});});
A('<rect x="1098" y="1148" width="54" height="57" rx="4" fill="none" stroke="#ff7f0e" stroke-width="1.3"/><rect x="1280" y="1140" width="58" height="86" rx="5" fill="none" stroke="#ff7f0e" stroke-width="1.3"/>');
[[8,1123,1152],[11,1323,1150],[11,1352,1152],[3,1106,1194],[3,1115,1194],[3,1127,1194],[3,1140,1194],[12,1290,1213],[12,1299,1213],[0,1345,1172],[6,1231,1172]].forEach(function(e){ln(ND[e[0]][0],ND[e[0]][1],e[1],e[2],'#222',0.5);});
for(k in ND){A('<circle cx="'+ND[k][0]+'" cy="'+ND[k][1]+'" r="6" fill="'+ND[k][2]+'"/>');tx(ND[k][0],ND[k][1]+2.3,k,6,'text-anchor="middle" fill="#222"');}
[['JAK2',1123,1157,'#c0392b'],['CDK4',1163,1178,'#c0392b'],['HLA-F',1226,1157,'#2b2bb0'],['IFNGR2',1253,1156,'#c0392b'],['IFNGR1',1229,1178,'#c0392b'],['JAK1',1323,1157,'#c0392b'],['CDK6',1353,1159,'#c0392b'],['SERPINE2',1343,1178,'#2b2bb0'],['HLA-E',1106,1200,'#2b2bb0'],['IRF1',1118,1200,'#2b2bb0'],['STAT1',1131,1200,'#c0392b'],['HLA-B',1144,1200,'#2b2bb0'],['HLA-A',1290,1220,'#2b2bb0'],['HLA-C',1303,1220,'#2b2bb0']].forEach(function(t){tx(t[1],t[2],t[0],5,'text-anchor="middle" fill="'+t[3]+'"');});
[['#1f77b4','Antigen processing and presentation'],['#ff7f0e','Cell cycle'],['#2ca02c','Chemokine signaling pathway'],['#d62728','Interferon signaling'],['#9467bd','Interleukin-1 regulation of extracellular matrix'],['#8c564b','Interleukin-2 signaling pathway'],['#e377c2','M phase pathway'],['#999','Response to elevated platelet cytosolic calcium'],['#bcbd22','TGF-beta regulation of extracellular matrix'],['#17becf','TNF-alpha effects on cytokine activity']].forEach(function(t,j){var y=1133+j*6.7;A('<circle cx="1372" cy="'+y+'" r="1.8" fill="'+t[0]+'"/>');tx(1377,y+1.6,t[1],4.3,'fill="#333"');});
tx(1369,1203,'CDK6',4.5,'fill="#c0392b"');tx(1383,1203,'Upstream gene (JAK/STAT &amp; CDK4/6)',4.2,'fill="#333"');
tx(1369,1216,'IRF1',4.5,'fill="#2b2bb0"');tx(1383,1216,'Downstream gene (ICR pathway)',4.2,'fill="#333"');
document.getElementById('g').innerHTML=S;
})();
</script>
</body></html>
